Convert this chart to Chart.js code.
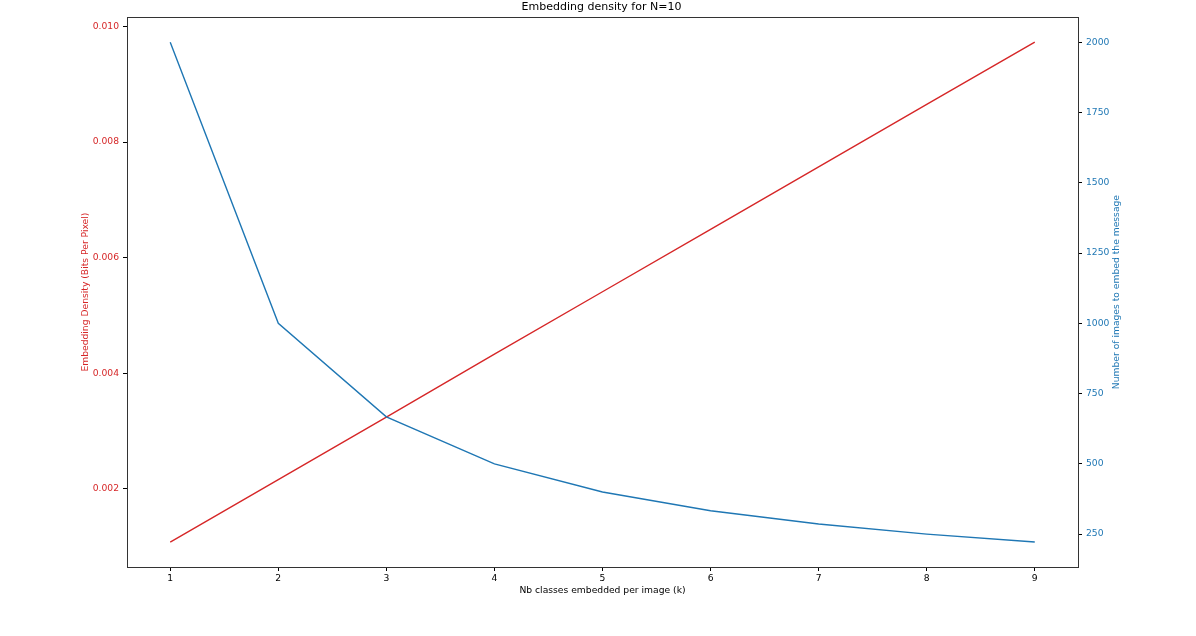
<!DOCTYPE html>
<html>
<head>
<meta charset="utf-8">
<script src="https://cdn.jsdelivr.net/npm/chart.js@4/dist/chart.umd.min.js"></script>
<style>
  html, body { margin: 0; padding: 0; background: #fff; }
  #wrap { width: 1196px; height: 636px; }
</style>
</head>
<body>
<div id="wrap"><canvas id="chartDensity" width="1196" height="636"></canvas></div>
<script>
// valori
var classiK = [1, 2, 3, 4, 5, 6, 7, 8, 9];
var densita = [0.00108, 0.00216, 0.00324, 0.00433, 0.00541, 0.00649, 0.00757, 0.00865, 0.00973];
var numImmagini = [2000, 1000, 667, 500, 400, 333, 286, 250, 222];

var tickX = [1, 2, 3, 4, 5, 6, 7, 8, 9];
var tickDensita = [0.002, 0.004, 0.006, 0.008, 0.010];
var tickImmagini = [250, 500, 750, 1000, 1250, 1500, 1750, 2000];

var ROSSO = '#d62728';
var BLU = '#1f77b4';
var FONT = 'DejaVu Sans';

function punti(xs, ys) {
    return xs.map(function (x, i) { return { x: x, y: ys[i] }; });
}

function fissaTick(valori) {
    return function (axis) {
        axis.ticks = valori.map(function (v) { return { value: v }; });
    };
}

// cornice + etichetta asse destro (ruotata come in matplotlib)
var cornice = {
    id: 'cornice',
    afterDraw: function (chart) {
        var a = chart.chartArea;
        var ctx = chart.ctx;
        ctx.save();
        ctx.strokeStyle = '#333';
        ctx.lineWidth = 1;
        ctx.strokeRect(Math.round(a.left) + 0.5, Math.round(a.top) + 0.5,
            Math.round(a.right - a.left), Math.round(a.bottom - a.top));
        ctx.translate(1117, (a.top + a.bottom) / 2);
        ctx.rotate(-Math.PI / 2);
        ctx.fillStyle = BLU;
        ctx.font = '9.2px "' + FONT + '"';
        ctx.textAlign = 'center';
        ctx.textBaseline = 'middle';
        ctx.fillText('Number of images to embed the message', 0, 0);
        ctx.restore();
    }
};

var sfondo = {
    id: 'sfondo',
    beforeDraw: function (chart) {
        var ctx = chart.ctx;
        ctx.save();
        ctx.fillStyle = '#fff';
        ctx.fillRect(0, 0, chart.width, chart.height);
        ctx.restore();
    }
};

var ctxDensita = document.getElementById('chartDensity').getContext('2d');
new Chart(ctxDensita, {
    type: 'line',
    data: {
        datasets: [
            {
                label: 'Embedding Density',
                data: punti(classiK, densita),
                borderColor: ROSSO,
                backgroundColor: 'transparent',
                borderWidth: 1.4,
                pointRadius: 0,
                tension: 0,
                yAxisID: 'y',
                order: 1
            },
            {
                label: 'Number of images',
                data: punti(classiK, numImmagini),
                borderColor: BLU,
                backgroundColor: 'transparent',
                borderWidth: 1.4,
                pointRadius: 0,
                tension: 0,
                yAxisID: 'y1',
                order: 0
            }
        ]
    },
    plugins: [sfondo, cornice],
    options: {
        responsive: false,
        animation: false,
        events: [],
        layout: { padding: { left: 74, right: 67, top: 0, bottom: 40 } },
        plugins: {
            legend: { display: false },
            tooltip: { enabled: false },
            title: {
                display: true,
                text: 'Embedding density for N=10',
                color: '#000',
                font: { family: FONT, size: 11, weight: 'normal' },
                padding: { top: 1, bottom: 3 }
            }
        },
        scales: {
            x: {
                type: 'linear',
                min: 0.6,
                max: 9.4,
                afterBuildTicks: fissaTick(tickX),
                afterFit: function (s) { s.height = 29; },
                border: { display: false },
                grid: { drawOnChartArea: false, drawTicks: true, tickLength: 4, color: '#000' },
                ticks: { color: '#000', padding: 2, maxRotation: 0, font: { family: FONT, size: 9.2 } },
                title: {
                    display: true,
                    text: 'Nb classes embedded per image (k)',
                    color: '#000',
                    font: { family: FONT, size: 9.2 },
                    padding: { top: 0, bottom: 0 }
                }
            },
            y: {
                type: 'linear',
                position: 'left',
                min: 0.000648,
                max: 0.01016,
                afterBuildTicks: fissaTick(tickDensita),
                afterFit: function (s) { s.width = 53; },
                border: { display: false },
                grid: { drawOnChartArea: false, drawTicks: true, tickLength: 4, color: '#000' },
                ticks: {
                    color: ROSSO,
                    padding: 4,
                    font: { family: FONT, size: 9.2 },
                    callback: function (v) { return v.toFixed(3); }
                },
                title: {
                    display: true,
                    text: 'Embedding Density (Bits Per Pixel)',
                    color: ROSSO,
                    font: { family: FONT, size: 9.2 },
                    padding: { top: 6.5, bottom: 0 }
                }
            },
            y1: {
                type: 'linear',
                position: 'right',
                min: 133,
                max: 2089,
                afterBuildTicks: fissaTick(tickImmagini),
                afterFit: function (s) { s.width = 51; },
                border: { display: false },
                grid: { drawOnChartArea: false, drawTicks: true, tickLength: 4, color: '#000' },
                ticks: {
                    color: BLU,
                    padding: 4,
                    font: { family: FONT, size: 9.2 },
                    callback: function (v) { return String(v); }
                }
            }
        }
    }
});
</script>
</body>
</html>
